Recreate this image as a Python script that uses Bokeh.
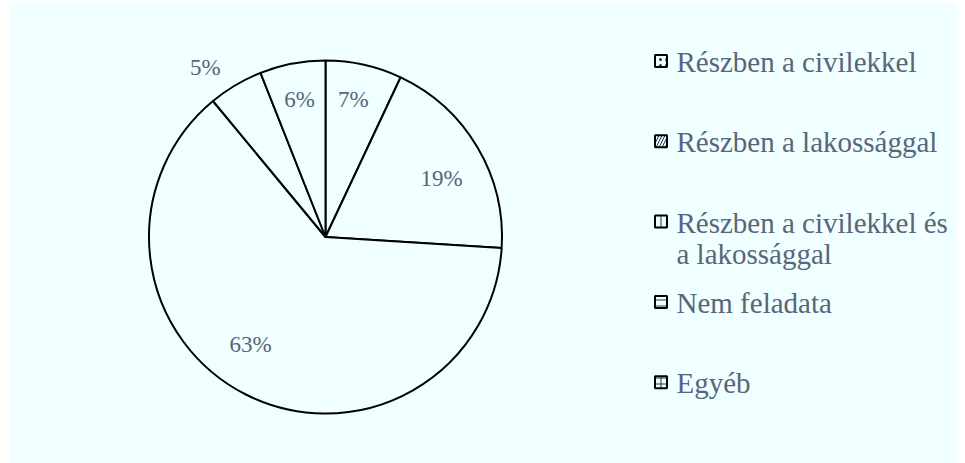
import math
from bokeh.plotting import figure
from bokeh.models import ColumnDataSource
from bokeh.core.properties import value
from bokeh.embed import file_html
from bokeh.resources import INLINE

# ---- data ----
categories = ["Részben a civilekkel", "Részben a lakossággal",
              "Részben a civilekkel és\na lakossággal", "Nem feladata", "Egyéb"]
shares = [7, 19, 63, 5, 6]
patterns = ["dot", "right_diagonal_line", "vertical_line", "horizontal_line", "cross"]

# ---- layout ----
W, H = 948, 461
OX, OY = 9, 2
BG = "#F0FFFF"
TXT = "#596579"
FONT = value("'Liberation Serif', 'Times New Roman', serif")

def Y(sy):  # screen y (page px) -> data y
    return OY + H - sy

def X(sx):
    return sx - OX

cx, cy, R = X(325), Y(236.5), 176.5
label_r = [140, 130, 131, 208, 140]
label_shift = [-1.1, 3.8, 7.9, -4.7, 0.1]

p = figure(width=W, height=H, x_range=(0, W), y_range=(0, H),
           output_backend="svg", toolbar_location=None, min_border=0,
           margin=(OY, 0, 0, OX))
p.axis.visible = False
p.grid.visible = False
p.outline_line_color = None
p.background_fill_color = BG
p.border_fill_color = BG

total = sum(shares)
starts, ends, mids = [], [], []
cum = 0.0
for s in shares:
    a0 = cum / total * 2 * math.pi
    cum += s
    a1 = cum / total * 2 * math.pi
    starts.append(math.pi / 2 - a0)
    ends.append(math.pi / 2 - a1)
    mids.append((a0 + a1) / 2)

src = ColumnDataSource(dict(start=starts, end=ends))
p.wedge(x=cx, y=cy, radius=R, start_angle="start", end_angle="end",
        direction="clock", source=src, fill_color=BG,
        line_color="black", line_width=2)

lx, ly, lt = [], [], []
for m, r, sh, s in zip(mids, label_r, label_shift, shares):
    a = m + math.radians(sh)
    lx.append(cx + r * math.sin(a))
    ly.append(cy + r * math.cos(a))
    lt.append(f"{s}%")
p.text(x=lx, y=ly, text=lt, text_font=FONT, text_font_size="23px",
       text_color=TXT, text_align="center", text_baseline="middle")

# ---- legend ----
row_c0, row_step, line_h = 60.5, 80.3, 31
mx, mk = X(660.5), 12
tx = X(676)
mxs, mys, txs, tys, tts = [], [], [], [], []
for i, c in enumerate(categories):
    yc = row_c0 + i * row_step
    mxs.append(mx)
    mys.append(Y(yc))
    for j, line in enumerate(c.split("\n")):
        txs.append(tx)
        tys.append(Y(yc + 1 + j * line_h))
        tts.append(line)

p.rect(x=mxs, y=mys, width=mk, height=mk, fill_color=BG, line_color="black",
       line_width=2, hatch_pattern=patterns, hatch_color="#1F3550",
       hatch_scale=6, hatch_weight=1)
p.text(x=txs, y=tys, text=tts, text_font=FONT, text_font_size="29px",
       text_color=TXT, text_align="left", text_baseline="middle")

open("out.html", "w").write(file_html(p, INLINE))
